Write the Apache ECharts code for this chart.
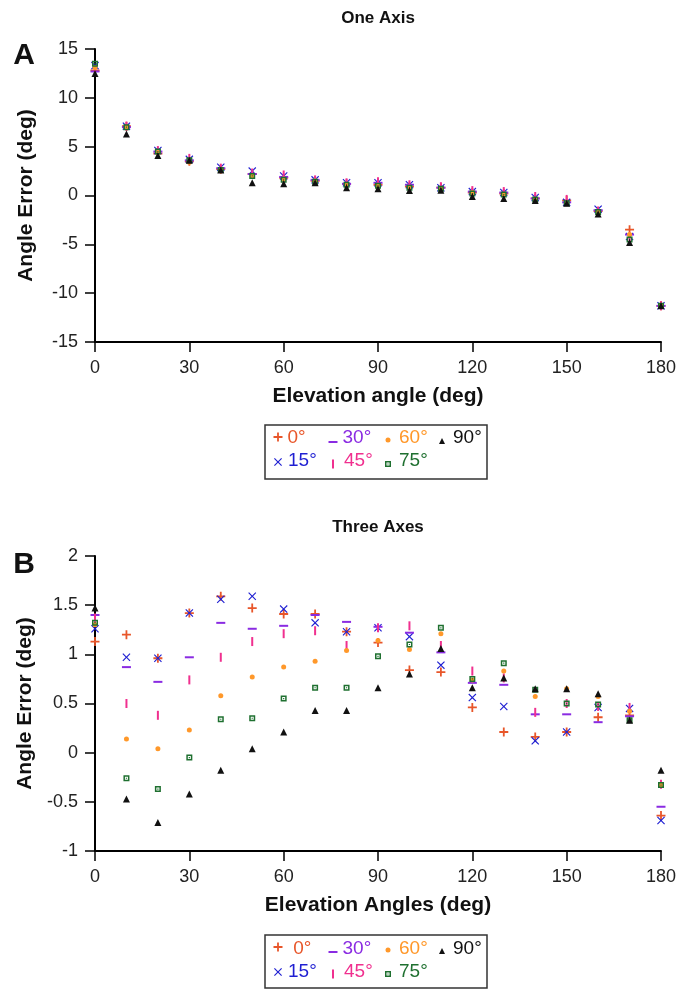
<!DOCTYPE html>
<html><head><meta charset="utf-8">
<script src="https://cdn.jsdelivr.net/npm/echarts@6/dist/echarts.min.js"></script>
<style>html,body{margin:0;padding:0;background:#fff}#c{width:692px;height:989px}</style>
</head><body><div id="c"></div>
<script>
// ---------- data ----------
const elevation = [0,10,20,30,40,50,60,70,80,90,100,110,120,130,140,150,160,170,180];
const seriesNames = ['0°','15°','30°','45°','60°','75°','90°'];

// Panel A: One Axis
const oneAxis_0  = [12.8, 7.1, 4.3, 3.5, 2.7, 2.2, 1.8, 1.5, 1.2, 1.1, 0.9, 0.8, 0.3, 0.2, -0.3, -0.5, -1.6, -3.5, -11.3];
const oneAxis_15 = [13.3, 7.1, 4.6, 3.7, 2.9, 2.5, 2.0, 1.6, 1.3, 1.3, 1.1, 0.8, 0.4, 0.3, -0.2, -0.7, -1.4, -4.2, -11.3];
const oneAxis_30 = [12.7, 7.0, 4.5, 3.6, 2.8, 2.2, 1.9, 1.6, 1.2, 1.3, 1.1, 0.8, 0.4, 0.3, -0.3, -0.7, -1.5, -4.0, -11.3];
const oneAxis_45 = [12.9, 7.1, 4.6, 3.8, 2.8, 2.3, 2.1, 1.6, 1.3, 1.4, 1.1, 0.9, 0.5, 0.4, -0.1, -0.4, -1.6, -4.6, -11.3];
const oneAxis_60 = [13.1, 7.0, 4.4, 3.4, 2.7, 2.0, 1.7, 1.5, 1.1, 1.0, 0.8, 0.7, 0.3, 0.1, -0.4, -0.8, -1.7, -4.0, -11.3];
const oneAxis_75 = [13.5, 7.0, 4.5, 3.6, 2.6, 2.0, 1.6, 1.4, 1.1, 1.0, 0.8, 0.7, 0.2, 0.1, -0.4, -0.8, -1.7, -4.5, -11.3];
const oneAxis_90 = [12.5, 6.3, 4.1, 3.6, 2.6, 1.3, 1.2, 1.3, 0.8, 0.7, 0.5, 0.55, -0.1, -0.3, -0.5, -0.8, -1.9, -4.8, -11.3];

// Panel B: Three Axes
const threeAxes_0  = [1.13, 1.20, 0.96, 1.42, 1.59, 1.47, 1.41, 1.41, 1.23, 1.12, 0.84, 0.82, 0.46, 0.21, 0.16, 0.21, 0.36, 0.38, -0.64];
const threeAxes_15 = [1.26, 0.97, 0.96, 1.42, 1.56, 1.59, 1.46, 1.32, 1.23, 1.27, 1.18, 0.89, 0.56, 0.47, 0.12, 0.21, 0.46, 0.45, -0.69];
const threeAxes_30 = [1.40, 0.87, 0.72, 0.97, 1.32, 1.26, 1.29, 1.40, 1.33, 1.28, 1.22, 1.02, 0.71, 0.69, 0.39, 0.39, 0.31, 0.37, -0.55];
const threeAxes_45 = [1.37, 0.50, 0.38, 0.74, 0.97, 1.13, 1.21, 1.24, 1.09, 1.27, 1.29, 1.09, 0.83, 0.76, 0.41, 0.50, 0.47, 0.46, -0.32];
const threeAxes_60 = [1.30, 0.14, 0.04, 0.23, 0.58, 0.77, 0.87, 0.93, 1.04, 1.14, 1.05, 1.21, 0.74, 0.83, 0.57, 0.65, 0.57, 0.42, -0.33];
const threeAxes_75 = [1.32, -0.26, -0.37, -0.05, 0.34, 0.35, 0.55, 0.66, 0.66, 0.98, 1.10, 1.27, 0.75, 0.91, 0.64, 0.50, 0.49, 0.33, -0.33];
const threeAxes_90 = [1.47, -0.47, -0.71, -0.42, -0.18, 0.04, 0.21, 0.43, 0.43, 0.66, 0.80, 1.06, 0.66, 0.76, 0.65, 0.65, 0.60, 0.33, -0.18];

const xTick = {min: 0, max: 180, interval: 30};
const yTickA = {min: -15, max: 15, interval: 5};
const yTickB = {min: -1, max: 2, interval: 0.5};

// ---------- styles ----------
const FONT = '"Liberation Sans", Arial, sans-serif';
const colors = ['#e8562a', '#1f1fd2', '#8a2be2', '#f0308f', '#ff982a', '#1f7030', '#111111'];
const kinds = ['plus', 'cross', 'rect', 'rect', 'circle', 'hsquare', 'triangle'];
const sizes = [[9,9],[8,8],[9,2],[2,9],[5,5],[6,6],[7,7]];

function P(pts){ return 'M' + pts.map(p => (+p[0].toFixed(3)) + ',' + (+p[1].toFixed(3))).join('L') + 'Z'; }
function shapePath(kind, x, y, w, h){
  const m = p => [x + p[0]*w, y + p[1]*h];
  switch(kind){
    case 'plus': return P([[.4,0],[.6,0],[.6,.4],[1,.4],[1,.6],[.6,.6],[.6,1],[.4,1],[.4,.6],[0,.6],[0,.4],[.4,.4]].map(m));
    case 'cross': return P([[.1,0],[.5,.4],[.9,0],[1,.1],[.6,.5],[1,.9],[.9,1],[.5,.6],[.1,1],[0,.9],[.4,.5],[0,.1]].map(m));
    case 'rect': return P([[0,0],[1,0],[1,1],[0,1]].map(m));
    case 'triangle': return P([[.5,0],[1,1],[0,1]].map(m));
    case 'hsquare': return P([[0,0],[1,0],[1,1],[0,1]].map(m)) + P([[.25,.25],[.25,.75],[.75,.75],[.75,.25]].map(m)) + P([[.4,.4],[.6,.4],[.6,.6],[.4,.6]].map(m));
    case 'circle': { const r = w/2, cx = x + r, cy = y + h/2;
      return `M${cx-r},${cy}A${r},${r},0,1,0,${cx+r},${cy}A${r},${r},0,1,0,${cx-r},${cy}Z`; }
  }
}
function seriesSymbol(i){
  const k = kinds[i];
  if (k === 'rect') return 'rect';
  if (k === 'circle') return 'circle';
  if (k === 'triangle') return 'triangle';
  return 'path://' + shapePath(k, 0, 0, 10, 10);
}

// legend placement: [series index, icon center x, icon center y, text start x, text center y, formatter prefix]
const legendA = [[0,278,437,287,438,''],[2,333,442,342,438,''],[4,388,440,399,438,''],[6,442,441,453,438,''],
                 [1,278,462,288,461,''],[3,333,464,344,461,''],[5,388,464,399,461,'']];
const legendB = [[0,278,947,288,949,' '],[2,333,952,342,949,''],[4,388,950,399,949,''],[6,442,951,453,949,''],
                 [1,278,972,288,972,''],[3,333,974,344,972,''],[5,388,974,399,972,'']];

function makeLegend(spec){
  const [i, cx, cy, T, Y, pre] = spec;
  const [sw0, sh0] = sizes[i];
  const sw = kinds[i] === 'triangle' ? 6 : sw0, sh = kinds[i] === 'triangle' ? 6 : sh0;
  const L = cx - sw/2;
  const W = Math.max(T - 5 - L, sw);
  const dy = cy - Y;
  const H = 2*(Math.abs(dy) + sh/2);
  const sy = H/2 + dy - sh/2;
  const d = 'M0,0' + shapePath(kinds[i], 0, sy, sw, sh) + 'M' + W + ',' + H;
  return {
    show: true, selectedMode: false, orient: 'horizontal', padding: 0, itemGap: 0,
    left: L, top: Y - 10, itemWidth: W, itemHeight: H,
    data: [{name: seriesNames[i], icon: 'path://' + d}],
    formatter: pre + '{name}',
    textStyle: {color: colors[i], fontSize: 19, lineHeight: 20, fontFamily: FONT}
  };
}

function xAxisCfg(g, name){
  return {
    type: 'value', gridIndex: g, min: xTick.min, max: xTick.max, interval: xTick.interval,
    name: name, nameLocation: 'middle', nameGap: 44,
    nameTextStyle: {fontSize: 21, fontWeight: 'bold', color: '#111', fontFamily: FONT},
    axisLine: {show: true, onZero: false, lineStyle: {color: '#000', width: 2}},
    axisTick: {show: true, length: 10, lineStyle: {color: '#000', width: 1.5}},
    splitLine: {show: false},
    axisLabel: {fontSize: 18, color: '#222', margin: 17, fontFamily: FONT}
  };
}
function yAxisCfg(g, t, name){
  return {
    type: 'value', gridIndex: g, min: t.min, max: t.max, interval: t.interval,
    name: name, nameLocation: 'middle', nameGap: 58,
    nameTextStyle: {fontSize: 21, fontWeight: 'bold', color: '#111', fontFamily: FONT},
    axisLine: {show: true, onZero: false, lineStyle: {color: '#000', width: 2}},
    axisTick: {show: true, length: 10, lineStyle: {color: '#000', width: 1.5}},
    splitLine: {show: false},
    axisLabel: {fontSize: 18, color: '#222', margin: 17, fontFamily: FONT}
  };
}

const dataA = [oneAxis_0, oneAxis_15, oneAxis_30, oneAxis_45, oneAxis_60, oneAxis_75, oneAxis_90];
const dataB = [threeAxes_0, threeAxes_15, threeAxes_30, threeAxes_45, threeAxes_60, threeAxes_75, threeAxes_90];

const series = [];
[dataA, dataB].forEach((set, g) => {
  set.forEach((vals, i) => {
    series.push({
      type: 'scatter', name: seriesNames[i], xAxisIndex: g, yAxisIndex: g,
      data: elevation.map((x, j) => [x, vals[j]]),
      symbol: seriesSymbol(i), symbolSize: sizes[i],
      itemStyle: {color: colors[i], opacity: 1},
      silent: true, z: 2 + i
    });
  });
});

function txt(x, y, s, font){
  return {type: 'text', x: x, y: y, style: {text: s, font: font, fill: '#111', align: 'center', verticalAlign: 'middle', textAlign: 'center', textVerticalAlign: 'middle'}};
}

const option = {
  backgroundColor: '#fff',
  animation: false,
  grid: [
    {left: 95, top: 49, width: 566, height: 293, containLabel: false},
    {left: 95, top: 556, width: 566, height: 295, containLabel: false}
  ],
  xAxis: [xAxisCfg(0, 'Elevation angle (deg)'), xAxisCfg(1, 'Elevation Angles (deg)')],
  yAxis: [yAxisCfg(0, yTickA, 'Angle Error (deg)'), yAxisCfg(1, yTickB, 'Angle Error (deg)')],
  legend: legendA.map(makeLegend).concat(legendB.map(makeLegend)),
  graphic: [
    txt(378, 18, 'One Axis', 'bold 17px ' + FONT),
    txt(378, 527, 'Three Axes', 'bold 17px ' + FONT),
    txt(24, 56, 'A', 'bold 30px ' + FONT),
    txt(24, 565, 'B', 'bold 30px ' + FONT),
    {type: 'rect', shape: {x: 265, y: 425, width: 222, height: 54}, style: {fill: 'none', stroke: '#333', lineWidth: 1.5}},
    {type: 'rect', shape: {x: 265, y: 935, width: 222, height: 53}, style: {fill: 'none', stroke: '#333', lineWidth: 1.5}}
  ],
  series: series
};

const chart = echarts.init(document.getElementById('c'), null, {renderer: 'canvas'});
chart.setOption(option);
</script>
</body></html>
